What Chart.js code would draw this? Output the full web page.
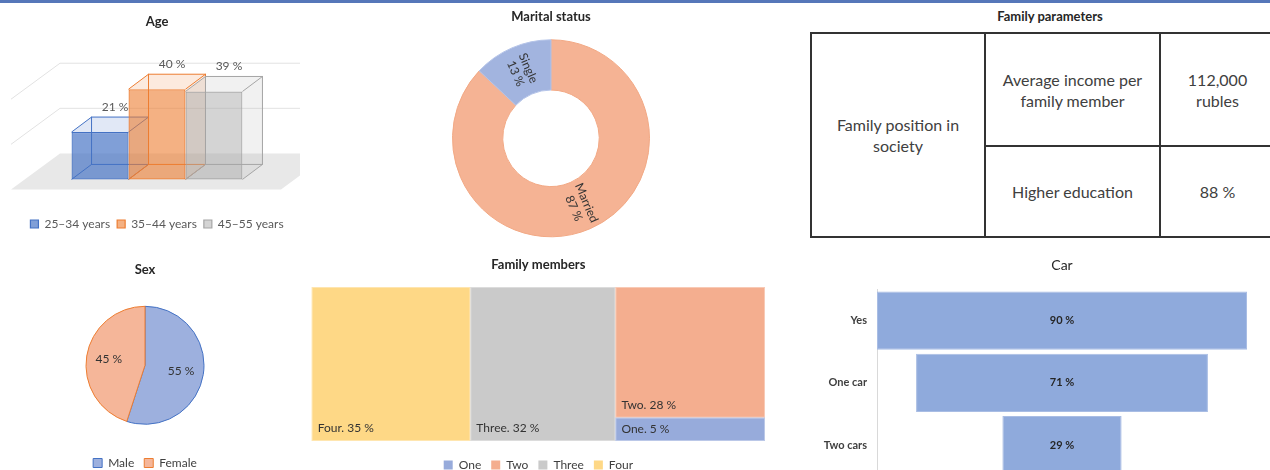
<!DOCTYPE html>
<html>
<head>
<meta charset="utf-8">
<script src="https://cdn.jsdelivr.net/npm/chart.js@4.4.1/dist/chart.umd.min.js"></script>
<style>
  html, body { margin: 0; padding: 0; background: #fff; }
  body { width: 1270px; height: 470px; position: relative; overflow: hidden;
         font-family: Lato, "Liberation Sans", sans-serif; color: #404040; }
  .topline { position: absolute; left: 0; top: 0; width: 1270px; height: 3px; background: #5677b9; z-index: 5; }
  canvas { position: absolute; }
  #ageChart { left: 0; top: 0; }
  #maritalChart { left: 421px; top: 0; }
  #sexChart { left: 0; top: 250px; }
  #familyChart { left: 300px; top: 250px; }
  #carChart { left: 780px; top: 250px; }
  .tbl-title { position: absolute; left: 950px; width: 200px; top: 8px; text-align: center;
               font-weight: bold; font-size: 13px; color: #262626; }
  #params { position: absolute; left: 810px; top: 32px; border-collapse: collapse; table-layout: fixed;
            width: 464px; font-size: 16px; color: #404040; }
  #params td { border: 2px solid #333; text-align: center; line-height: 21px; padding: 0; white-space: pre-line; }
  #params tr.r0 td { height: 111px; }
  #params tr.r1 td { height: 89px; }
</style>
</head>
<body>
<div class="topline"></div>
<canvas id="ageChart" width="300" height="240"></canvas>
<canvas id="maritalChart" width="260" height="240"></canvas>
<div class="tbl-title">Family parameters</div>
<table id="params">
  <colgroup><col style="width:174px"><col style="width:175px"><col style="width:115px"></colgroup>
</table>
<canvas id="sexChart" width="290" height="229"></canvas>
<canvas id="familyChart" width="480" height="231"></canvas>
<canvas id="carChart" width="490" height="243"></canvas>

<script>
// ---- data ----
const ageGroups = ['25–34 years', '35–44 years', '45–55 years'];
const agePercents = [21, 40, 39];
const ageGridValues = [20, 40];

const maritalLabels = ['Married', 'Single'];
const maritalPercents = [87, 13];

const paramGroup = 'Family position in\nsociety';
const paramNames = ['Average income per\nfamily member', 'Higher education'];
const paramValues = ['112,000\nrubles', '88 %'];

const sexLabels = ['Male', 'Female'];
const sexPercents = [55, 45];

const familyLabels = ['One', 'Two', 'Three', 'Four'];
const familyPercents = [5, 28, 32, 35];

const carLabels = ['Yes', 'One car', 'Two cars'];
const carPercents = [90, 71, 29];

Chart.defaults.font.family = 'Lato, "Liberation Sans", sans-serif';
Chart.defaults.color = '#404040';

const titleFont = { size: 13, weight: 'bold' };

// ---- Age: bars with a drawn 3D box ----
const ageBorders = ['#4472c4', '#ed7d31', '#a5a5a5'];
const ageFills = ['rgba(68,114,196,0.68)', 'rgba(237,125,49,0.6)', 'rgba(165,165,165,0.48)'];
const ageTints = ['rgba(68,114,196,0.16)', 'rgba(237,125,49,0.16)', 'rgba(165,165,165,0.16)'];
const DEPTH = { dx: 20, dy: -15 };

const age3d = {
  id: 'age3d',
  beforeDatasetsDraw(chart) {
    const { ctx, chartArea, scales: { y } } = chart;
    const y0 = y.getPixelForValue(0);
    const front = { dx: -11, dy: 10 }, back = { dx: 38, dy: -26 };
    const l = chartArea.left, r = chartArea.right;
    ctx.save();
    // floor
    ctx.fillStyle = '#e8e8e8';
    ctx.beginPath();
    ctx.moveTo(l + front.dx, y0 + front.dy);
    ctx.lineTo(r + front.dx, y0 + front.dy);
    ctx.lineTo(r + back.dx, y0 + back.dy);
    ctx.lineTo(l + back.dx, y0 + back.dy);
    ctx.closePath();
    ctx.fill();
    // wall gridlines
    ctx.strokeStyle = '#e2e2e2';
    ctx.lineWidth = 1;
    ageGridValues.forEach(v => {
      const py = y.getPixelForValue(v);
      ctx.beginPath();
      ctx.moveTo(l + front.dx, py + front.dy);
      ctx.lineTo(l + back.dx, py + back.dy);
      ctx.lineTo(r + back.dx + 20, py + back.dy);
      ctx.stroke();
    });
    // box faces behind the front
    chart.data.datasets.forEach((ds, i) => {
      const bar = chart.getDatasetMeta(i).data[0];
      const p = bar.getProps(['x', 'y', 'base', 'width'], true);
      const bl = p.x - p.width / 2, br = p.x + p.width / 2, t = p.y, b = p.base;
      const { dx, dy } = DEPTH;
      ctx.fillStyle = ageTints[i];
      ctx.beginPath();
      ctx.moveTo(bl, t); ctx.lineTo(br, t); ctx.lineTo(br + dx, t + dy); ctx.lineTo(bl + dx, t + dy);
      ctx.closePath(); ctx.fill();
      ctx.beginPath();
      ctx.moveTo(br, t); ctx.lineTo(br + dx, t + dy); ctx.lineTo(br + dx, b + dy); ctx.lineTo(br, b);
      ctx.closePath(); ctx.fill();
      ctx.strokeStyle = ageBorders[i];
      ctx.lineWidth = 1;
      ctx.strokeRect(bl + dx, t + dy, br - bl, b - t);
      ctx.beginPath();
      [[bl, t], [br, t], [br, b], [bl, b]].forEach(([px, py]) => {
        ctx.moveTo(px, py); ctx.lineTo(px + dx, py + dy);
      });
      ctx.stroke();
    });
    ctx.restore();
  },
  afterDatasetsDraw(chart) {
    const { ctx } = chart;
    ctx.save();
    ctx.font = '12px Lato, sans-serif';
    ctx.fillStyle = '#595959';
    ctx.textAlign = 'center';
    ctx.textBaseline = 'middle';
    chart.data.datasets.forEach((ds, i) => {
      const p = chart.getDatasetMeta(i).data[0].getProps(['x', 'y'], true);
      ctx.fillText(ds.data[0] + ' %', p.x + DEPTH.dx * 0.75, p.y + DEPTH.dy - 10);
    });
    ctx.restore();
  }
};

new Chart(document.getElementById('ageChart'), {
  type: 'bar',
  data: {
    labels: [''],
    datasets: ageGroups.map((g, i) => ({
      label: g,
      data: [agePercents[i]],
      backgroundColor: ageFills[i],
      borderColor: ageBorders[i],
      borderWidth: 1.2,
      borderSkipped: false
    }))
  },
  options: {
    responsive: false,
    animation: false,
    layout: { padding: { left: 22, right: 8 } },
    datasets: { bar: { categoryPercentage: 0.633, barPercentage: 1 } },
    scales: {
      x: { display: false },
      y: { display: false, min: -14, max: 62 }
    },
    plugins: {
      title: { display: true, text: 'Age', fullSize: false, font: titleFont, color: '#262626',
               padding: { top: 14, bottom: 10 } },
      legend: { position: 'bottom', fullSize: false,
                labels: { boxWidth: 8, boxHeight: 8, font: { size: 12 }, color: '#595959', padding: 7 } },
      tooltip: { enabled: false }
    }
  },
  plugins: [age3d]
});

// ---- labels on pie / doughnut arcs ----
const arcLabels = {
  id: 'arcLabels',
  afterDatasetsDraw(chart, args, opts) {
    const { ctx } = chart;
    const values = chart.data.datasets[0].data;
    ctx.save();
    ctx.font = opts.size + 'px Lato, sans-serif';
    ctx.fillStyle = opts.color;
    ctx.textAlign = 'center';
    ctx.textBaseline = 'middle';
    chart.getDatasetMeta(0).data.forEach((arc, i) => {
      const p = arc.getProps(['x', 'y', 'startAngle', 'endAngle', 'innerRadius', 'outerRadius'], true);
      const mid = (p.startAngle + p.endAngle) / 2;
      const r = p.innerRadius + (p.outerRadius - p.innerRadius) * opts.at;
      const lines = opts.withName ? [chart.data.labels[i], values[i] + ' %'] : [values[i] + ' %'];
      let rot = 0;
      if (opts.rotate) {
        rot = mid;
        while (rot > Math.PI / 2) rot -= Math.PI;
        while (rot <= -Math.PI / 2) rot += Math.PI;
      }
      ctx.save();
      ctx.translate(p.x + Math.cos(mid) * r, p.y + Math.sin(mid) * r);
      ctx.rotate(rot);
      const lh = opts.size * 1.15;
      lines.forEach((t, k) => ctx.fillText(t, 0, (k - (lines.length - 1) / 2) * lh));
      ctx.restore();
    });
    ctx.restore();
  }
};

// ---- Marital status ----
new Chart(document.getElementById('maritalChart'), {
  type: 'doughnut',
  data: {
    labels: maritalLabels,
    datasets: [{
      data: maritalPercents,
      backgroundColor: ['#f5b394', '#a2b4df'],
      borderColor: ['#f2a985', '#b5c4e8'],
      borderWidth: 1
    }]
  },
  options: {
    responsive: false,
    animation: false,
    radius: 98.5,
    cutout: '49%',
    plugins: {
      title: { display: true, text: 'Marital status', font: titleFont, color: '#262626',
               padding: { top: 9, bottom: 12 } },
      legend: { display: false },
      tooltip: { enabled: false },
      arcLabels: { size: 12, color: '#333', at: 0.5, rotate: true, withName: true }
    }
  },
  plugins: [arcLabels]
});

// ---- Family parameters table ----
const table = document.getElementById('params');
paramNames.forEach((name, i) => {
  const tr = document.createElement('tr');
  tr.className = 'r' + i;
  if (i === 0) {
    const g = document.createElement('td');
    g.rowSpan = paramNames.length;
    g.textContent = paramGroup;
    tr.appendChild(g);
  }
  [name, paramValues[i]].forEach(t => {
    const td = document.createElement('td');
    td.textContent = t;
    tr.appendChild(td);
  });
  table.appendChild(tr);
});

// ---- Sex ----
new Chart(document.getElementById('sexChart'), {
  type: 'pie',
  data: {
    labels: sexLabels,
    datasets: [{
      data: sexPercents,
      backgroundColor: ['#9db0de', '#f5b699'],
      borderColor: ['#4472c4', '#ed7d31'],
      borderWidth: 1
    }]
  },
  options: {
    responsive: false,
    animation: false,
    radius: 59,
    plugins: {
      title: { display: true, text: 'Sex', font: titleFont, color: '#262626',
               padding: { top: 12, bottom: 6 } },
      legend: { position: 'bottom',
                labels: { boxWidth: 9, boxHeight: 9, font: { size: 12 }, color: '#404040', padding: 10 } },
      tooltip: { enabled: false },
      arcLabels: { size: 12, color: '#333', at: 0.62, rotate: false, withName: false }
    }
  },
  plugins: [arcLabels]
});

// ---- Family members: squarified treemap on the chart's scales ----
function squarify(items, box) {
  const total = items.reduce((s, it) => s + it.value, 0);
  let { x0, y0, x1, y1 } = box;
  const k = (x1 - x0) * (y1 - y0) / total;
  let rest = items.map(it => Object.assign({}, it, { area: it.value * k }));
  const out = [];
  while (rest.length) {
    const w = x1 - x0, h = y1 - y0, side = Math.min(w, h);
    const worst = row => {
      const s = row.reduce((a, b) => a + b.area, 0);
      const mx = Math.max(...row.map(q => q.area)), mn = Math.min(...row.map(q => q.area));
      return Math.max(side * side * mx / (s * s), (s * s) / (side * side * mn));
    };
    const row = [rest[0]];
    let i = 1;
    while (i < rest.length && worst(row.concat([rest[i]])) <= worst(row)) { row.push(rest[i]); i++; }
    rest = rest.slice(i);
    const sum = row.reduce((a, b) => a + b.area, 0);
    if (w >= h) {
      const cw = sum / h;
      let yy = y0;
      row.forEach(q => { const rh = q.area / cw; out.push(Object.assign(q, { x: x0, y: yy, w: cw, h: rh })); yy += rh; });
      x0 += cw;
    } else {
      const rh = sum / w;
      let xx = x0;
      row.forEach(q => { const rw = q.area / rh; out.push(Object.assign(q, { x: xx, y: y0, w: rw, h: rh })); xx += rw; });
      y0 += rh;
    }
  }
  return out;
}

const treemap = {
  id: 'treemap',
  beforeDatasetsDraw(chart) {
    const { ctx, scales: { x, y } } = chart;
    const box = { x0: x.getPixelForValue(0), x1: x.getPixelForValue(100),
                  y0: y.getPixelForValue(100), y1: y.getPixelForValue(0) };
    const items = chart.data.datasets
      .map(ds => ({ label: ds.label, value: ds.data[0], color: ds.backgroundColor }))
      .sort((a, b) => b.value - a.value);
    const rects = squarify(items, box);
    ctx.save();
    rects.forEach(r => {
      ctx.fillStyle = r.color;
      ctx.fillRect(r.x, r.y, r.w, r.h);
      ctx.strokeStyle = 'rgba(255,255,255,0.35)';
      ctx.lineWidth = 1;
      ctx.strokeRect(r.x + 0.5, r.y + 0.5, r.w - 1, r.h - 1);
    });
    ctx.font = '12px Lato, sans-serif';
    ctx.fillStyle = '#333';
    ctx.textAlign = 'left';
    ctx.textBaseline = 'middle';
    rects.forEach(r => {
      ctx.fillText(r.label + '. ' + r.value + ' %', r.x + 6, r.y + r.h - Math.min(13, r.h / 2));
    });
    ctx.restore();
    return false;
  }
};

const familyColors = ['#97abdb', '#f4ae8f', '#cacaca', '#fed886'];
new Chart(document.getElementById('familyChart'), {
  type: 'bar',
  data: {
    labels: [''],
    datasets: familyLabels.map((l, i) => ({
      label: l,
      data: [familyPercents[i]],
      backgroundColor: familyColors[i],
      borderColor: familyColors[i],
      borderWidth: 0
    }))
  },
  options: {
    responsive: false,
    animation: false,
    layout: { padding: { left: 11.7, right: 15 } },
    scales: {
      x: { type: 'linear', display: false, offset: false, min: 0, max: 100 },
      y: { display: false, min: -5.2, max: 100 }
    },
    plugins: {
      title: { display: true, text: 'Family members', fullSize: false, font: titleFont, color: '#262626',
               padding: { top: 7.2, bottom: 14.2 } },
      legend: { position: 'bottom', fullSize: false,
                labels: { boxWidth: 9, boxHeight: 9, font: { size: 12 }, color: '#404040', padding: 10 } },
      tooltip: { enabled: false }
    }
  },
  plugins: [treemap]
});

// ---- Car: funnel of centred floating bars ----
const carMax = Math.max(...carPercents);
const carValueLabels = {
  id: 'carValueLabels',
  afterDatasetsDraw(chart) {
    const { ctx } = chart;
    ctx.save();
    ctx.font = 'bold 11px Lato, sans-serif';
    ctx.fillStyle = '#262626';
    ctx.textAlign = 'center';
    ctx.textBaseline = 'middle';
    chart.getDatasetMeta(0).data.forEach((bar, i) => {
      const p = bar.getProps(['x', 'y', 'base'], true);
      ctx.fillText(carPercents[i] + ' %', (p.x + p.base) / 2, p.y);
    });
    ctx.restore();
  }
};

new Chart(document.getElementById('carChart'), {
  type: 'bar',
  data: {
    labels: carLabels,
    datasets: [{
      data: carPercents.map(v => [(100 - v) / 2, (100 + v) / 2]),
      backgroundColor: '#8faadc',
      borderColor: '#a9bde4',
      borderWidth: 1,
      borderSkipped: false,
      barPercentage: 0.935,
      categoryPercentage: 1
    }]
  },
  options: {
    indexAxis: 'y',
    responsive: false,
    animation: false,
    layout: { padding: { right: 23, bottom: 4.5 } },
    scales: {
      x: { display: false, min: (100 - carMax) / 2, max: (100 + carMax) / 2 },
      y: {
        afterFit(scale) { scale.width = 97; },
        grid: { display: false, drawTicks: false },
        border: { display: true, color: '#d9d9d9', width: 1 },
        ticks: { font: { size: 11, weight: 'bold' }, color: '#404040', padding: 10 }
      }
    },
    plugins: {
      title: { display: true, text: 'Car', fullSize: false, font: { size: 14, weight: 'normal' }, color: '#262626',
               padding: { top: 6.6, bottom: 16 } },
      legend: { display: false },
      tooltip: { enabled: false }
    }
  },
  plugins: [carValueLabels]
});
</script>
</body>
</html>
